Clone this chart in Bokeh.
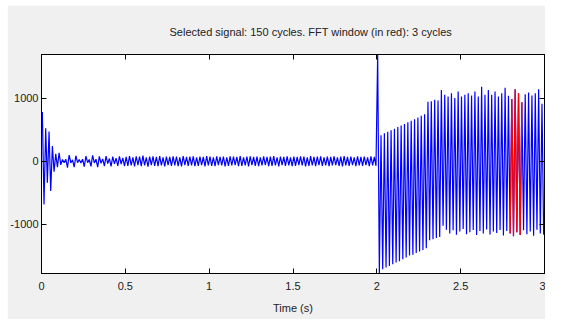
from bokeh.plotting import figure
from bokeh.models import FixedTicker, LinearAxis, Range1d, ColumnDataSource
from bokeh.embed import file_html
from bokeh.resources import INLINE

# ---------------- data (peak values per 50 Hz cycle) ----------------
title_text = "Selected signal: 150 cycles. FFT window (in red): 3 cycles"
x_label = "Time (s)"
x_ticks = [0, 0.5, 1, 1.5, 2, 2.5, 3]
x_tick_labels = ["0", "0.5", "1", "1.5", "2", "2.5", "3"]
y_ticks = [-1000, 0, 1000]
y_tick_labels = ["-1000", "0", "1000"]
cycles_total = 150
duration = 3.0
fft_start_cycle = 140
fft_cycles = 3

# 0 - 0.1 s : initial transient
start_max = [780, 520, 470, 240, 115]
start_min = [-690, -345, -475, -170, -95]
# 0.1 - 0.5 s
early_max = [130, 25, 30, 95, 20, 85, 25, 30, 80, 25, 90, 30, 75, 35, 80, 40, 70, 45, 75, 50]
early_min = [-60, -25, -105, -30, -95, -25, -30, -90, -25, -85, -30, -95, -35, -80, -40, -85, -45, -75, -50, -80]
# 0.5 - 2.0 s
steady_max = [65, 80, 60, 75, 70, 85, 60, 70, 75, 65, 80, 60, 70, 65, 75, 70, 60, 80, 65, 70,
              75, 60, 70, 65, 80, 70, 60, 75, 65, 70, 60, 75, 70, 65, 80, 60, 70, 75, 65, 70,
              60, 75, 65, 70, 80, 60, 70, 65, 75, 60, 70, 65, 75, 70, 60, 80, 65, 70, 75, 60,
              70, 65, 75, 60, 70, 80, 65, 70, 60, 75, 65, 70, 60, 75, 65]
steady_min = [-75, -70, -85, -65, -80, -70, -90, -65, -75, -80, -70, -85, -65, -75, -70, -80, -85, -65, -75, -70,
              -80, -75, -65, -85, -70, -75, -80, -65, -70, -85, -75, -70, -65, -80, -75, -70, -85, -65, -75, -80,
              -70, -65, -80, -75, -70, -85, -65, -75, -70, -80, -75, -65, -70, -85, -75, -70, -80, -65, -75, -70,
              -80, -70, -65, -75, -85, -70, -75, -65, -80, -70, -75, -65, -80, -70, -75]
# 2.0 - 3.0 s : fault
fault_max = [1690,
             410, 440, 465, 490, 515, 540, 565, 590, 615, 640, 665, 690, 720, 745,
             940, 950, 975, 960,
             1128, 1051, 1026, 1077, 1000, 1103, 1026, 1051, 1077, 1040, 1103, 1026, 1180, 1051,
             1128, 1051, 1103, 1026, 1077, 1165, 1037,
             985, 1140, 1075,
             934, 1060, 1088, 1040, 1075, 1140, 908]
fault_min = [-1780,
             -1718, -1690, -1667, -1640, -1610, -1590, -1560, -1530, -1500, -1487, -1460, -1436, -1410, -1385,
             -1256, -1240, -1220, -1205,
             -1025, -1090, -1150, -1100, -1170, -1120, -1080, -1160, -1130, -1095, -1175, -1110, -1150, -1085,
             -1165, -1120, -1140, -1095, -1180, -1110, -1150,
             -1195, -1130, -1175,
             -1100, -1160, -1120, -1185, -1090, -1150, -1170]

cycle_max = start_max + early_max + steady_max + fault_max
cycle_min = start_min + early_min + steady_min + fault_min
assert len(cycle_max) == cycles_total and len(cycle_min) == cycles_total

period = duration / cycles_total
t, v = [], []
for k in range(cycles_total):
    t.append(k * period + period / 4)
    v.append(cycle_max[k])
    t.append(k * period + 3 * period / 4)
    v.append(cycle_min[k])

i0 = 2 * fft_start_cycle - 1
i1 = 2 * (fft_start_cycle + fft_cycles)
src_all = ColumnDataSource(dict(t=t, v=v))
src_fft = ColumnDataSource(dict(t=t[i0:i1 + 1], v=v[i0:i1 + 1]))

# ---------------- figure ----------------
FONT = "Liberation Sans"
TXT = "#222222"
p = figure(width=538, height=314, output_backend="svg", toolbar_location=None,
           x_range=Range1d(0, 3), y_range=Range1d(-1785, 1692),
           min_border_left=34, min_border_right=1, min_border_top=49, min_border_bottom=46,
           background_fill_color="white", border_fill_color="#F0F0F0",
           outline_line_color="black", outline_line_width=1)
p.margin = (5, 0, 0, 7)
p.grid.visible = False

p.title.text = title_text
p.title.align = "left"
p.title.offset = 128
p.title.text_font = FONT
p.title.text_font_size = "11px"
p.title.text_font_style = "normal"
p.title.text_color = TXT
p.title.standoff = 34

p.line("t", "v", source=src_all, line_color="#0000FF", line_width=1.2, line_join="bevel")
p.line("t", "v", source=src_fft, line_color="#FF0000", line_width=1.2, line_join="bevel")

for ax in (p.xaxis[0], p.yaxis[0]):
    ax.major_tick_in = 5
    ax.major_tick_out = 0
    ax.minor_tick_in = 0
    ax.minor_tick_out = 0
    ax.axis_line_color = "black"
    ax.major_tick_line_color = "black"
    ax.major_label_text_font = FONT
    ax.major_label_text_font_size = "11px"
    ax.major_label_text_color = TXT

p.xaxis[0].ticker = FixedTicker(ticks=x_ticks)
p.xaxis[0].major_label_overrides = {tk: lb for tk, lb in zip(x_ticks, x_tick_labels)}
p.xaxis[0].major_label_standoff = 8
p.xaxis[0].axis_label = x_label
p.xaxis[0].axis_label_text_font = FONT
p.xaxis[0].axis_label_text_font_size = "11px"
p.xaxis[0].axis_label_text_font_style = "normal"
p.xaxis[0].axis_label_text_color = TXT
p.xaxis[0].axis_label_standoff = 9

p.yaxis[0].ticker = FixedTicker(ticks=y_ticks)
p.yaxis[0].major_label_overrides = {tk: lb for tk, lb in zip(y_ticks, y_tick_labels)}
p.yaxis[0].major_label_standoff = 3
p.yaxis[0].major_label_orientation = "horizontal"

top_ax = LinearAxis(ticker=FixedTicker(ticks=x_ticks), major_label_text_font_size="0px",
                    major_label_text_color=None,
                    major_label_standoff=0, major_tick_in=5, major_tick_out=0,
                    minor_tick_in=0, minor_tick_out=0, axis_line_color="black")
right_ax = LinearAxis(ticker=FixedTicker(ticks=y_ticks), major_label_text_font_size="0px",
                      major_label_text_color=None,
                      major_label_standoff=0, major_tick_in=5, major_tick_out=0,
                      minor_tick_in=0, minor_tick_out=0, axis_line_color="black")
p.add_layout(top_ax, "above")
p.add_layout(right_ax, "right")

open("out.html", "w").write(file_html(p, INLINE))
